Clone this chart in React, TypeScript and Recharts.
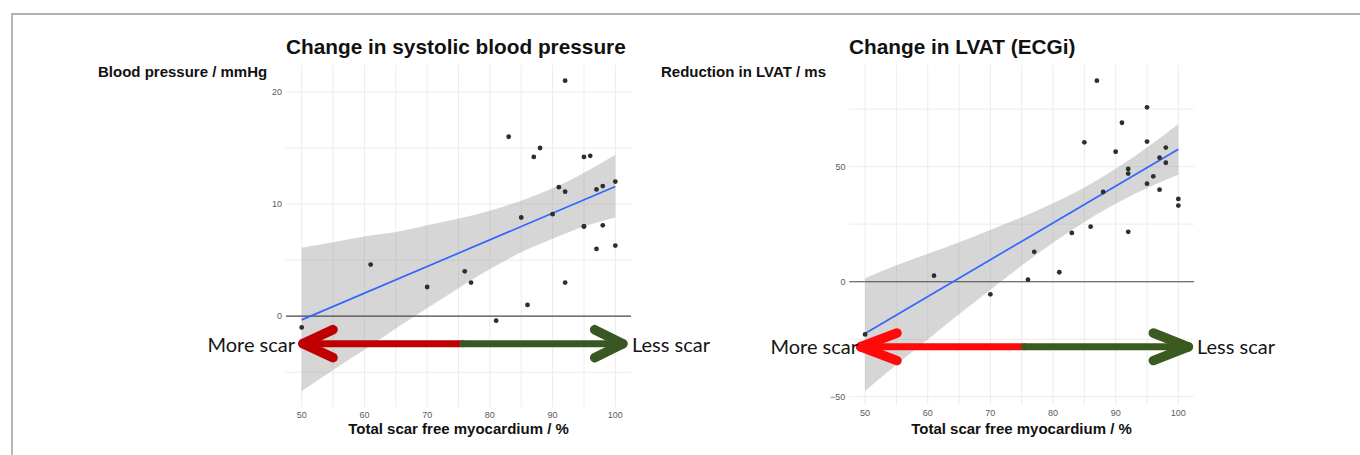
import {
  Area,
  CartesianGrid,
  ComposedChart,
  Line,
  ReferenceLine,
  Scatter,
  XAxis,
  YAxis,
} from 'recharts'

// change in systolic blood pressure (mmHg) against total scar free myocardium (%)
const bpScarFree = [50, 61, 70, 76, 77, 81, 83, 85, 86, 87, 88, 90, 91, 92, 92, 92, 95, 95, 95, 96, 97, 97, 98, 98, 100, 100]
const bpChange = [-1.0, 4.6, 2.6, 4.0, 3.0, -0.4, 16.0, 8.8, 1.0, 14.2, 15.0, 9.1, 11.5, 21.0, 11.1, 3.0, 14.2, 8.0, 8.0, 14.3, 11.3, 6.0, 11.6, 8.1, 12.0, 6.3]

// reduction in LVAT (ms) against total scar free myocardium (%)
const lvatScarFree = [50, 61, 70, 76, 77, 81, 83, 85, 86, 87, 88, 90, 91, 92, 92, 92, 95, 95, 95, 96, 97, 97, 98, 98, 100, 100]
const lvatReduction = [-22.9, 2.6, -5.5, 0.9, 13.0, 4.1, 21.2, 60.6, 23.9, 87.4, 39.0, 56.5, 69.1, 49.0, 47.0, 21.7, 75.8, 60.9, 42.6, 45.8, 53.9, 40.0, 58.3, 51.7, 36.0, 33.1]

// confidence band of the linear fit
const bandX = [50, 55, 60, 65, 70, 75, 80, 85, 90, 95, 100]
const bpBandLow = [-6.7, -4.8, -3.0, -1.1, 0.7, 2.5, 4.2, 5.7, 6.9, 8.0, 8.8]
const bpBandHigh = [6.1, 6.6, 7.1, 7.5, 8.1, 8.7, 9.4, 10.3, 11.4, 12.8, 14.4]
const lvatBandLow = [-47.5, -36.1, -25.1, -14.2, -3.5, 7.0, 16.9, 26.0, 33.9, 40.7, 46.5]
const lvatBandHigh = [1.5, 7.1, 12.1, 17.2, 22.5, 28.0, 34.1, 41.0, 49.1, 58.3, 68.5]

// fitted line end points
const fitX = [50, 100]
const bpFit = [-0.33, 11.57]
const lvatFit = [-22.5, 57.6]

const xTicks = [50, 60, 70, 80, 90, 100]
const xGrid = [50, 55, 60, 65, 70, 75, 80, 85, 90, 95, 100]
const bpTicks = [0, 10, 20]
const bpGrid = [-5, 0, 5, 10, 15, 20]
const lvatTicks = [-50, 0, 50]
const lvatGrid = [-50, -25, 0, 25, 50, 75]

const sans = '"Liberation Sans", Arial, sans-serif'
const tickStyle = { fontSize: 9, fill: '#5a5a5a', fontFamily: sans }

const dot = (p: any) => <circle cx={p.cx} cy={p.cy} r={2.4} fill="#2e2e2e" />

interface ArrowSpec {
  y: number
  arm: number
  redColor: string
  greenColor: string
  leftTip: number
  leftArm: number
  mid: number
  rightTip: number
  rightArm: number
}

interface PanelProps {
  left: number
  margin: { top: number; right: number; bottom: number; left: number }
  xs: number[]
  ys: number[]
  bandLow: number[]
  bandHigh: number[]
  fit: number[]
  yDomain: [number, number]
  yTicks: number[]
  yGrid: number[]
  arrow: ArrowSpec
}

function ScarPanel({ left, margin, xs, ys, bandLow, bandHigh, fit, yDomain, yTicks, yGrid, arrow }: PanelProps) {
  const points = xs.map((x, i) => ({ x, y: ys[i] }))
  const band = bandX.map((x, i) => ({ x, band: [bandLow[i], bandHigh[i]] }))
  const fitLine = fitX.map((x, i) => ({ x, fit: fit[i] }))
  const a = arrow
  const seg = (x1: number, y1: number, x2: number, y2: number) => [
    { x: x1, y: y1 },
    { x: x2, y: y2 },
  ]

  return (
    <div style={{ position: 'absolute', left, top: 0 }}>
      <ComposedChart width={680} height={455} margin={margin}>
        <CartesianGrid stroke="#ececec" verticalValues={xGrid} horizontalValues={yGrid} />
        <XAxis
          type="number"
          dataKey="x"
          domain={[47.5, 102.5]}
          ticks={xTicks}
          allowDataOverflow
          axisLine={false}
          tickLine={false}
          tickSize={0}
          tickMargin={5}
          height={20}
          tick={tickStyle}
        />
        <YAxis
          type="number"
          domain={yDomain}
          ticks={yTicks}
          allowDataOverflow
          axisLine={false}
          tickLine={false}
          tickSize={0}
          tickMargin={4}
          width={30}
          tick={tickStyle}
          tickFormatter={(v: number) => String(v).replace('-', '\u2212')}
        />
        <Area
          data={band}
          dataKey="band"
          type="monotone"
          fill="#999999"
          fillOpacity={0.4}
          stroke="none"
          isAnimationActive={false}
        />
        <ReferenceLine y={0} stroke="#4a4a4a" strokeWidth={1.1} />
        <Line
          data={fitLine}
          dataKey="fit"
          stroke="#3366FF"
          strokeWidth={1.7}
          dot={false}
          isAnimationActive={false}
        />
        <Scatter data={points} dataKey="y" shape={dot} isAnimationActive={false} />

        <ReferenceLine segment={seg(a.leftTip + 0.6, a.y, a.mid, a.y)} stroke={a.redColor} strokeWidth={7} strokeLinecap="round" />
        <ReferenceLine segment={seg(a.mid, a.y, a.rightTip - 0.6, a.y)} stroke={a.greenColor} strokeWidth={7} strokeLinecap="round" />
        <ReferenceLine segment={seg(a.leftArm, a.y + a.arm, a.leftTip, a.y)} stroke={a.redColor} strokeWidth={9.5} strokeLinecap="round" />
        <ReferenceLine segment={seg(a.leftArm, a.y - a.arm, a.leftTip, a.y)} stroke={a.redColor} strokeWidth={9.5} strokeLinecap="round" />
        <ReferenceLine segment={seg(a.rightArm, a.y + a.arm, a.rightTip, a.y)} stroke={a.greenColor} strokeWidth={9.5} strokeLinecap="round" />
        <ReferenceLine segment={seg(a.rightArm, a.y - a.arm, a.rightTip, a.y)} stroke={a.greenColor} strokeWidth={9.5} strokeLinecap="round" />
      </ComposedChart>
    </div>
  )
}

const text = (left: number, top: number, size: number, content: string, extra: any = {}) => (
  <div
    style={{
      position: 'absolute',
      left,
      top,
      fontSize: size,
      lineHeight: `${size}px`,
      whiteSpace: 'nowrap',
      fontFamily: sans,
      fontWeight: 700,
      color: '#111',
      ...extra,
    }}
  >
    {content}
  </div>
)

const scarLabel = { fontFamily: 'Lato, "Open Sans", sans-serif', fontWeight: 400, color: '#151515' }

export default function App() {
  return (
    <div style={{ position: 'absolute', left: 0, top: 0, width: 1360, height: 455, background: '#fff', overflow: 'hidden' }}>
      <div
        style={{
          position: 'absolute',
          left: 11,
          top: 13,
          width: 1360,
          height: 460,
          borderTop: '2px solid #b2b2a8',
          borderLeft: '2px solid #b8b8b0',
        }}
      />
      <ScarPanel
        left={0}
        margin={{ top: 65, right: 49, bottom: 28, left: 256 }}
        xs={bpScarFree}
        ys={bpChange}
        bandLow={bpBandLow}
        bandHigh={bpBandHigh}
        fit={bpFit}
        yDomain={[-8.1, 22.4]}
        yTicks={bpTicks}
        yGrid={bpGrid}
        arrow={{ y: -2.45, arm: 1.25, redColor: '#c00000', greenColor: '#385723', leftTip: 50.2, leftArm: 55.0, mid: 75.7, rightTip: 101.2, rightArm: 96.7 }}
      />
      <ScarPanel
        left={680}
        margin={{ top: 65, right: 166, bottom: 30, left: 139.4 }}
        xs={lvatScarFree}
        ys={lvatReduction}
        bandLow={lvatBandLow}
        bandHigh={lvatBandHigh}
        fit={lvatFit}
        yDomain={[-53.6, 94.2]}
        yTicks={lvatTicks}
        yGrid={lvatGrid}
        arrow={{ y: -28.3, arm: 6.0, redColor: '#ff0a0a', greenColor: '#3a5a20', leftTip: 49.3, leftArm: 55.1, mid: 75.4, rightTip: 101.6, rightArm: 96.0 }}
      />

      {text(286, 37, 20.8, 'Change in systolic blood pressure')}
      {text(849, 37, 20.8, 'Change in LVAT (ECGi)')}
      {text(98, 64, 15, 'Blood pressure / mmHg')}
      {text(661, 64, 15, 'Reduction in LVAT / ms')}
      {text(286, 421, 15, 'Total scar free myocardium / %', { width: 345, textAlign: 'center' })}
      {text(849, 421, 15, 'Total scar free myocardium / %', { width: 345, textAlign: 'center' })}

      {text(190, 334, 20, 'More scar', { ...scarLabel, width: 105, textAlign: 'right' })}
      {text(632, 334, 20, 'Less scar', scarLabel)}
      {text(753, 336, 20, 'More scar', { ...scarLabel, width: 105, textAlign: 'right' })}
      {text(1197, 336, 20, 'Less scar', scarLabel)}
    </div>
  )
}
